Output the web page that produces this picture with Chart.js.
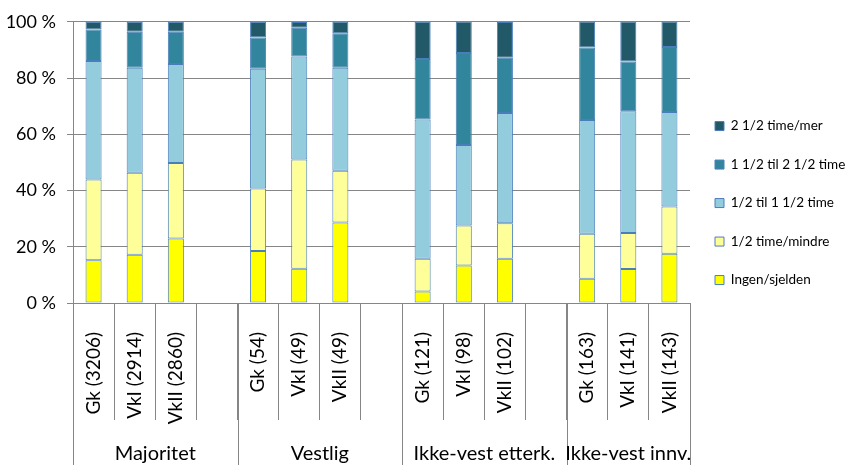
<!DOCTYPE html>
<html>
<head>
<meta charset="utf-8">
<script src="https://cdn.jsdelivr.net/npm/chart.js@4"></script>
<style>
    html, body { margin: 0; padding: 0; background: #fff; }
    #wrap { width: 847px; height: 465px; }
</style>
</head>
<body>
<div id="wrap"><canvas id="chart_tid"></canvas></div>
<script>
// kategorier (tom plass mellom gruppene)
var etiketter = ['Gk (3206)', 'VkI (2914)', 'VkII (2860)', '',
    'Gk (54)', 'VkI (49)', 'VkII (49)', '',
    'Gk (121)', 'VkI (98)', 'VkII (102)', '',
    'Gk (163)', 'VkI (141)', 'VkII (143)'];

var grupper = ['Majoritet', 'Vestlig', 'Ikke-vest etterk.', 'Ikke-vest innv.'];
var gruppeStorrelse = [4, 4, 4, 3];

// prosent per svaralternativ
var ingen = [15.2, 17.2, 22.9, null, 18.5, 12.2, 28.6, null, 4.1, 13.3, 15.7, null, 8.6, 12.1, 17.5];
var halvTime = [28.7, 29.1, 26.9, null, 22.2, 38.8, 18.4, null, 11.6, 14.3, 12.7, null, 16.0, 12.8, 16.8];
var halvTilEn = [42.2, 37.4, 35.2, null, 42.6, 36.7, 36.7, null, 49.6, 28.6, 39.2, null, 40.5, 43.3, 33.6];
var enTilTo = [11.2, 12.8, 11.5, null, 11.1, 10.2, 12.2, null, 21.5, 32.7, 19.6, null, 25.8, 17.7, 23.1];
var toPlus = [2.7, 3.5, 3.5, null, 5.6, 2.0, 4.1, null, 13.2, 11.2, 12.7, null, 9.2, 14.2, 9.1];

var serieNavn = ['Ingen/sjelden', '1/2 time/mindre', '1/2 til 1 1/2 time', '1 1/2 til 2 1/2 time', '2 1/2 time/mer'];
var farger = ['#FFFF00', '#FFFF99', '#93CDDD', '#31859C', '#215968'];
var serier = [ingen, halvTime, halvTilEn, enTilTo, toPlus];

var linjeFarge = '#868686';

Chart.defaults.font.family = 'Lato';
Chart.defaults.color = '#000';

// gruppenavn og lange skillelinjer under aksen
var gruppePlugin = {
    id: 'grupper',
    afterDraw: function(chart) {
        var ctx = chart.ctx;
        var x = chart.scales.x;
        var bunn = chart.chartArea.bottom;
        var bredde = x.getPixelForValue(1) - x.getPixelForValue(0);
        var start = 0;
        ctx.save();
        ctx.strokeStyle = linjeFarge;
        ctx.lineWidth = 1;
        ctx.fillStyle = '#000';
        ctx.font = '20px Lato';
        ctx.textAlign = 'center';
        ctx.textBaseline = 'middle';
        for (var g = 0; g < grupper.length; g++) {
            var n = gruppeStorrelse[g];
            var venstre = x.getPixelForValue(start) - bredde / 2;
            var hoyre = x.getPixelForValue(start + n - 1) + bredde / 2;
            ctx.beginPath();
            ctx.moveTo(Math.round(venstre) + 0.5, bunn);
            ctx.lineTo(Math.round(venstre) + 0.5, 465);
            if (g == grupper.length - 1) {
                ctx.moveTo(Math.round(hoyre) + 0.5, bunn);
                ctx.lineTo(Math.round(hoyre) + 0.5, 465);
            }
            ctx.stroke();
            ctx.fillText(grupper[g], (venstre + hoyre) / 2, 454);
            start += n;
        }
        ctx.restore();
    }
};

function lagDatasett() {
    var ds = [];
    for (var i = 0; i < serier.length; i++) {
        ds.push({
            label: serieNavn[i],
            data: serier[i],
            backgroundColor: farger[i],
            borderColor: '#4A7EBB',
            borderWidth: 1,
            borderSkipped: false,
            barPercentage: 0.39,
            categoryPercentage: 1
        });
    }
    return ds;
}

const config = {
    type: 'bar',
    data: {
        labels: etiketter,
        datasets: lagDatasett()
    },
    options: {
        responsive: true,
        maintainAspectRatio: false,
        animation: false,
        layout: { padding: { top: 20, right: 0, bottom: 40, left: 0 } },
        plugins: {
            tooltip: { enabled: false },
            legend: {
                position: 'right',
                align: 'start',
                reverse: true,
                maxWidth: 157,
                // tom tittel skyver forklaringen ned
                title: {
                    display: true,
                    text: ' ',
                    font: { size: 14 },
                    padding: { top: 57.5, bottom: 0 }
                },
                labels: {
                    boxWidth: 9,
                    boxHeight: 9,
                    padding: 25,
                    font: { size: 13.5 },
                    color: '#000'
                }
            }
        },
        scales: {
            x: {
                stacked: true,
                afterFit: function(scale) { scale.height = 122; },
                grid: {
                    offset: true,
                    drawOnChartArea: false,
                    drawTicks: true,
                    tickLength: 117,
                    color: linjeFarge
                },
                border: { color: linjeFarge },
                ticks: {
                    autoSkip: false,
                    minRotation: 90,
                    maxRotation: 90,
                    padding: -88,
                    font: { size: 19 }
                }
            },
            y: {
                stacked: true,
                min: 0,
                max: 100,
                afterFit: function(scale) { scale.width = 73; },
                grid: {
                    color: linjeFarge,
                    tickLength: 6
                },
                border: { color: linjeFarge },
                ticks: {
                    stepSize: 20,
                    padding: 11,
                    font: { size: 18 },
                    callback: function(v) { return v + ' %'; }
                }
            }
        }
    },
    plugins: [gruppePlugin]
};

const myChart = new Chart(document.getElementById('chart_tid'), config);
</script>
</body>
</html>
